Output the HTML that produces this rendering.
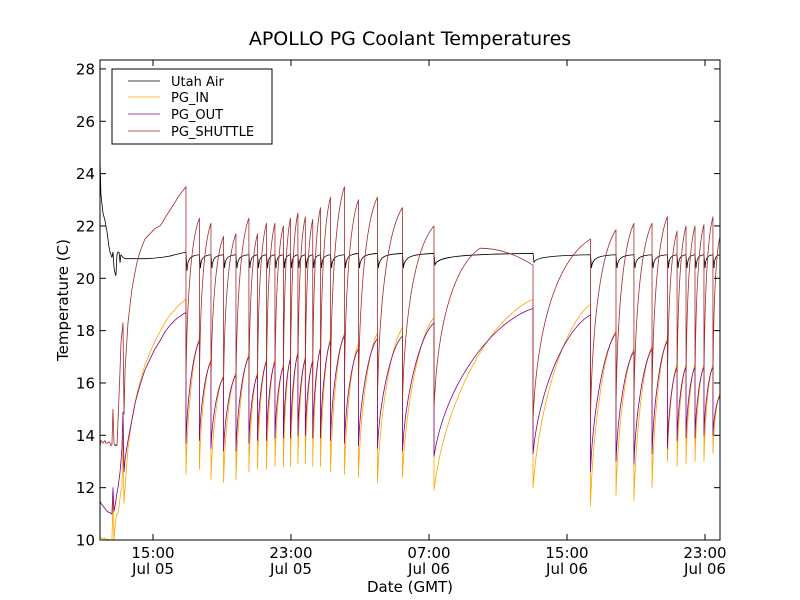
<!DOCTYPE html>
<html><head><meta charset="utf-8">
<style>
body{margin:0;background:#fff;}
svg{display:block;font-family:"DejaVu Sans","Liberation Sans",sans-serif;}
</style></head>
<body>
<svg id="chart" width="800" height="600" viewBox="0 0 800 600">
<rect x="0" y="0" width="800" height="600" fill="#fff"/>
<text x="410" y="45" font-size="19" text-anchor="middle">APOLLO PG Coolant Temperatures</text>
<g id="plot"></g>
<rect x="100" y="60" width="620" height="480" fill="none" stroke="#000" stroke-width="1"/>
<g id="ticks"></g>
<text x="410" y="592" font-size="15" text-anchor="middle">Date (GMT)</text>
<text transform="translate(68,300) rotate(-90)" font-size="15" text-anchor="middle">Temperature (C)</text>
<g>
<rect x="112" y="69" width="160" height="75" fill="#fff" stroke="#000" stroke-width="1"/>
<line x1="128" y1="81" x2="160" y2="81" stroke="#000" stroke-width="0.8"/>
<text x="171" y="86" font-size="13">Utah Air</text>
<line x1="128" y1="97" x2="160" y2="97" stroke="#ffa500" stroke-width="0.8"/>
<text x="171" y="102" font-size="13">PG_IN</text>
<line x1="128" y1="114" x2="160" y2="114" stroke="#800080" stroke-width="0.8"/>
<text x="171" y="119" font-size="13">PG_OUT</text>
<line x1="128" y1="131" x2="160" y2="131" stroke="#a52a2a" stroke-width="0.8"/>
<text x="171" y="136" font-size="13">PG_SHUTTLE</text>
</g>
</svg>
<script>
// times in hours since Jul 05 00:00 GMT
const xTickTimes = [15, 23, 31, 39, 47];
const xTickLabels1 = ["15:00", "23:00", "07:00", "15:00", "23:00"];
const xTickLabels2 = ["Jul 05", "Jul 05", "Jul 06", "Jul 06", "Jul 06"];
const yTickValues = [10, 12, 14, 16, 18, 20, 22, 24, 26, 28];

// cycle drop times
const dropTimes = [16.91,17.69,18.36,19.09,19.81,20.56,21.06,21.58,22.07,22.56,22.97,23.40,23.83,24.26,24.71,25.29,26.10,26.91,28.01,29.46,31.29,37.03,40.36,41.84,42.88,43.93,44.82,45.38,45.90,46.42,46.94,47.46];
// value just before each drop
const shuttlePeaks = [23.5,22.3,22.1,21.6,21.7,22.3,21.7,22.1,22.1,22.0,22.3,22.5,22.35,22.25,22.7,23.1,23.5,23.0,23.1,22.7,22.0,20.5,21.5,21.85,22.1,22.1,22.35,21.8,22.0,22.0,22.05,22.35];
// value right after each drop
const shuttleMins = [16.0,16.0,16.0,15.9,16.0,16.0,16.1,16.1,16.1,16.1,16.2,16.2,16.2,16.2,16.2,16.0,16.0,15.8,15.3,15.2,15.0,14.6,14.6,15.0,15.2,15.5,15.8,16.0,16.0,16.0,16.0,16.0];
const outPeaks = [18.7,17.6,16.8,16.2,16.3,17.0,16.3,16.8,16.8,16.6,16.9,17.1,16.9,16.8,17.3,17.6,17.8,17.3,17.7,17.8,18.3,18.85,18.6,17.9,17.2,17.3,17.6,16.6,16.6,16.6,16.6,16.6];
const outMins = [13.7,13.8,13.5,13.4,13.4,13.7,13.8,13.8,13.9,13.9,13.9,14.0,14.0,13.9,13.9,13.8,13.7,13.6,13.5,13.4,13.2,13.3,12.6,13.0,12.9,13.3,13.5,13.8,13.9,13.9,14.0,14.0];
const inPeaks = [19.2,17.7,16.9,16.3,16.4,17.1,16.4,16.9,16.9,16.7,17.0,17.2,17.0,16.9,17.4,17.7,17.9,17.5,17.9,18.1,18.5,19.2,19.0,18.0,17.3,17.4,17.7,16.7,16.7,16.7,16.7,16.7];
const inMins = [12.5,12.7,12.3,12.2,12.3,12.6,12.7,12.7,12.8,12.8,12.8,12.9,12.9,12.8,12.8,12.6,12.5,12.4,12.2,12.4,11.9,12.0,11.3,11.7,11.5,12.0,13.0,12.8,12.9,13.0,13.0,13.3];
const airDips = [20.3,20.4,20.4,20.4,20.4,20.4,20.4,20.4,20.4,20.4,20.4,20.4,20.4,20.4,20.4,20.4,20.4,20.4,20.4,20.4,20.5,20.6,20.4,20.4,20.4,20.4,20.4,20.4,20.4,20.4,20.4,20.4];
const airPeaks = [20.9,20.9,20.9,20.9,20.9,20.9,20.9,20.9,20.9,20.9,20.9,20.9,20.9,20.9,20.9,20.9,20.95,20.95,20.95,20.95,20.95,20.9,20.9,20.9,20.9,20.9,20.9,20.9,20.9,20.9,20.9,20.9];
// long cycle with an interior maximum (shuttle)
const shuttleHumpTime = 33.95;
const shuttleHumpValue = 21.15;
// final partial cycle end values
const endTime = 47.87;
const shuttleEnd = 21.6, outEnd = 15.5, inEnd = 15.6, airEnd = 20.9;

// early (before first regular cycle)
const earlyTimes = [11.93,11.98,12.10,12.22,12.27,12.33,12.45,12.51,12.56,12.62,12.68,12.74,12.80,12.85,12.91,12.97,13.03,13.09,13.14,13.20,13.26,13.32,13.38,13.55,13.78,13.95,14.07,14.24,14.53,15.11,15.40,15.52,15.69,15.98,16.27,16.45,16.91];
const earlyShuttle = [13.6,13.8,13.7,13.8,13.7,13.7,13.75,13.7,13.6,13.65,15.0,13.7,13.6,13.65,13.6,14.5,15.5,16.5,17.5,17.9,18.3,14.8,16.5,18.3,19.6,20.2,20.6,21.0,21.5,21.9,22.0,22.1,22.3,22.6,22.9,23.1,23.5];
const earlyOut = [11.5,11.4,11.3,11.2,11.15,11.1,11.05,11.05,11.0,11.0,12.0,11.1,11.3,11.5,11.8,12.0,12.3,12.6,13.0,13.5,14.9,12.6,13.1,13.8,14.6,15.2,15.5,15.9,16.5,17.3,17.6,17.75,17.95,18.2,18.4,18.5,18.7];
const earlyIn = [10.1,10.08,10.06,10.05,10.04,10.03,10.02,10.0,10.0,10.0,11.5,10.0,10.5,10.8,11.0,11.0,11.3,11.6,11.9,12.0,14.0,11.4,12.0,13.5,14.6,15.2,15.6,16.0,16.7,17.6,17.95,18.1,18.3,18.6,18.8,18.95,19.2];
const earlyAir = [24.5,23.2,22.5,22.2,22.0,21.8,21.2,21.0,20.9,20.8,21.0,20.4,20.2,20.1,20.9,21.0,21.0,20.6,20.9,20.85,20.8,20.78,20.75,20.75,20.75,20.75,20.75,20.75,20.75,20.77,20.8,20.8,20.82,20.85,20.9,20.93,21.0];

function xs(t){ return 153 + (t - 15) * 17.25; }
function ys(v){ return 540 - (v - 10) * 26.17; }

const NS = "http://www.w3.org/2000/svg";
const plot = document.getElementById("plot");
const ticks = document.getElementById("ticks");

const defs = document.createElementNS(NS, "defs");
defs.innerHTML = '<clipPath id="clip"><rect x="100" y="60" width="620" height="480"/></clipPath>';
document.getElementById("chart").insertBefore(defs, plot);
plot.setAttribute("clip-path", "url(#clip)");

function rise(t0, v0, t1, v1, a, b, c){
  const dt = t1 - t0, dv = v1 - v0;
  return " C" + xs(t0 + a * dt).toFixed(2) + "," + ys(v0 + b * dv).toFixed(2) + " " +
    xs(t0 + c * dt).toFixed(2) + "," + ys(v1 - 0.1 * dv).toFixed(2) + " " +
    xs(t1).toFixed(2) + "," + ys(v1).toFixed(2);
}

function buildPath(early, peaks, mins, endVal, a, b, c, hump){
  let d = "M" + xs(earlyTimes[0]).toFixed(2) + "," + ys(early[0]).toFixed(2);
  for (let i = 1; i < earlyTimes.length; i++) d += " L" + xs(earlyTimes[i]).toFixed(2) + "," + ys(early[i]).toFixed(2);
  for (let i = 0; i < dropTimes.length; i++){
    const t0 = dropTimes[i];
    d += " L" + xs(t0).toFixed(2) + "," + ys(peaks[i]).toFixed(2);
    d += " L" + xs(t0).toFixed(2) + "," + ys(mins[i]).toFixed(2);
    const t1 = (i + 1 < dropTimes.length) ? dropTimes[i + 1] : endTime;
    const v1 = (i + 1 < peaks.length) ? peaks[i + 1] : endVal;
    if (hump && t0 < shuttleHumpTime && t1 > shuttleHumpTime){
      d += rise(t0, mins[i], shuttleHumpTime, shuttleHumpValue, a, b, c);
      d += " Q" + xs((shuttleHumpTime + t1) / 2).toFixed(2) + "," + ys(shuttleHumpValue).toFixed(2) + " " + xs(t1).toFixed(2) + "," + ys(v1).toFixed(2);
    } else {
      d += rise(t0, mins[i], t1, v1, a, b, c);
    }
  }
  return d;
}

function addPath(d, color, name, w){
  const p = document.createElementNS(NS, "path");
  p.setAttribute("d", d);
  p.setAttribute("fill", "none");
  p.setAttribute("stroke", color);
  p.setAttribute("stroke-width", w);
  p.setAttribute("stroke-linejoin", "round");
  
  
  plot.appendChild(p);
}

(function(){
  let d = "M" + xs(earlyTimes[0]).toFixed(2) + "," + ys(earlyAir[0]).toFixed(2);
  for (let i = 1; i < earlyTimes.length; i++) d += " L" + xs(earlyTimes[i]).toFixed(2) + "," + ys(earlyAir[i]).toFixed(2);
  for (let i = 0; i < dropTimes.length; i++){
    const t0 = dropTimes[i];
    const t1 = (i + 1 < dropTimes.length) ? dropTimes[i + 1] : endTime;
    const prev = i === 0 ? earlyAir[earlyAir.length - 1] : airPeaks[i - 1];
    d += " L" + xs(t0).toFixed(2) + "," + ys(prev).toFixed(2);
    d += " L" + xs(t0 + 0.06).toFixed(2) + "," + ys(airDips[i]).toFixed(2);
    const v1 = airPeaks[i];
    const dt = t1 - t0 - 0.06;
    d += " C" + xs(t0 + 0.1).toFixed(2) + "," + ys(v1 - 0.1).toFixed(2) + " " + xs(t0 + 0.06 + dt * 0.3).toFixed(2) + "," + ys(v1 - 0.03).toFixed(2) + " " + xs(t1).toFixed(2) + "," + ys(v1).toFixed(2);
  }
  d += " L" + xs(endTime).toFixed(2) + "," + ys(airEnd).toFixed(2);
  addPath(d, "#000", "series-utah-air", 0.8);
})();

addPath(buildPath(earlyIn, inPeaks, inMins, inEnd, 0.1, 0.45, 0.55, false), "#ffa500", "series-pg-in", 0.8);
addPath(buildPath(earlyOut, outPeaks, outMins, outEnd, 0.1, 0.45, 0.55, false), "#800080", "series-pg-out", 0.8);
addPath(buildPath(earlyShuttle, shuttlePeaks, shuttleMins, shuttleEnd, 0.08, 0.6, 0.5, true), "#a52a2a", "series-pg-shuttle", 0.8);

for (let i = 0; i < xTickTimes.length; i++){
  const x = xs(xTickTimes[i]);
  for (const [y1, y2] of [[540, 534], [60, 66]]){
    const l = document.createElementNS(NS, "line");
    l.setAttribute("x1", x); l.setAttribute("x2", x);
    l.setAttribute("y1", y1); l.setAttribute("y2", y2);
    l.setAttribute("stroke", "#000");
    
    
    ticks.appendChild(l);
  }
  const t1 = document.createElementNS(NS, "text");
  t1.setAttribute("x", x); t1.setAttribute("y", 558);
  t1.setAttribute("font-size", "15"); t1.setAttribute("text-anchor", "middle");
  t1.textContent = xTickLabels1[i];
  
  
  ticks.appendChild(t1);
  const t2 = document.createElementNS(NS, "text");
  t2.setAttribute("x", x); t2.setAttribute("y", 574);
  t2.setAttribute("font-size", "15"); t2.setAttribute("text-anchor", "middle");
  t2.textContent = xTickLabels2[i];
  
  
  ticks.appendChild(t2);
}
for (let i = 0; i < yTickValues.length; i++){
  const y = ys(yTickValues[i]);
  for (const [x1, x2] of [[100, 106], [720, 714]]){
    const l = document.createElementNS(NS, "line");
    l.setAttribute("x1", x1); l.setAttribute("x2", x2);
    l.setAttribute("y1", y); l.setAttribute("y2", y);
    l.setAttribute("stroke", "#000");
    
    
    ticks.appendChild(l);
  }
  const t = document.createElementNS(NS, "text");
  t.setAttribute("x", 95); t.setAttribute("y", y + 5.5);
  t.setAttribute("font-size", "15"); t.setAttribute("text-anchor", "end");
  t.textContent = yTickValues[i];
  
  
  ticks.appendChild(t);
}
</script>
</body></html>
